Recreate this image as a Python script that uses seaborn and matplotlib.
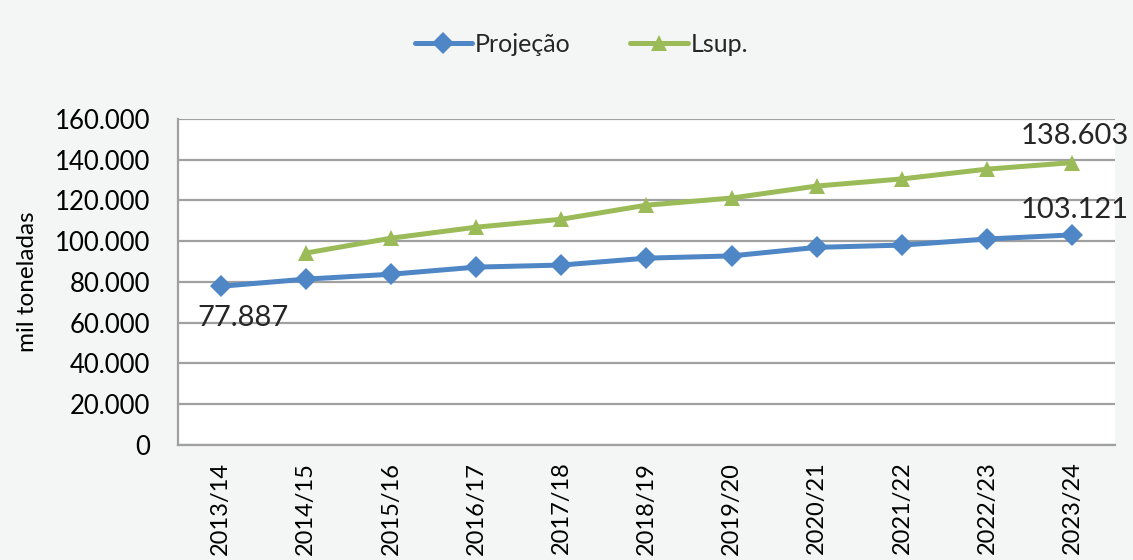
import numpy as np
import pandas as pd
import matplotlib
matplotlib.use("Agg")
import matplotlib.pyplot as plt
import matplotlib.ticker as mticker
from matplotlib.lines import Line2D
import seaborn as sns

# Safras e séries (mil toneladas)
safras = ["2013/14", "2014/15", "2015/16", "2016/17", "2017/18", "2018/19",
          "2019/20", "2020/21", "2021/22", "2022/23", "2023/24"]
projecao = [77887, 81400, 83800, 87300, 88300, 91700, 92800, 97000, 98100, 101100, 103121]
lsup = [np.nan, 94200, 101500, 106900, 110800, 117700, 121200, 127100, 130600, 135400, 138603]
y_ticks = [0, 20000, 40000, 60000, 80000, 100000, 120000, 140000, 160000]

BLUE = "#4F86C6"
GREEN = "#9BBB59"
BG = "#F4F6F6"
GRID = "#A0A0A0"

sns.set_theme(style="white")
plt.rcParams["font.family"] = ["Lato", "DejaVu Sans"]

df = pd.DataFrame({
    "pos": list(range(len(safras))) * 2,
    "valor": projecao + lsup,
    "serie": ["Projeção"] * len(safras) + ["Lsup."] * len(safras),
})

fig = plt.figure(figsize=(11.33, 5.60), dpi=100, facecolor=BG)
ax = fig.add_axes([0.1571, 0.2054, 0.8270, 0.5821])
ax.set_facecolor("white")

sns.lineplot(data=df.dropna(), x="pos", y="valor", hue="serie", style="serie",
             palette={"Projeção": BLUE, "Lsup.": GREEN},
             markers={"Projeção": "D", "Lsup.": "^"},
             dashes=False, linewidth=3.6, markersize=11.5, markeredgewidth=0,
             ax=ax, legend=False)

ax.set_xlim(-0.5, len(safras) - 0.5)
ax.set_ylim(y_ticks[0], y_ticks[-1])
ax.set_yticks(y_ticks)
fmt = lambda v: f"{int(v):,}".replace(",", ".")
ax.yaxis.set_major_formatter(mticker.FuncFormatter(lambda v, p: fmt(v)))
ax.set_xticks(range(len(safras)))
ax.set_xticklabels(safras, rotation=90, fontsize=17, color="black")
ax.set_xticks(np.arange(-0.5, len(safras)), minor=True)
ax.tick_params(axis="x", which="major", length=0, pad=12)
ax.tick_params(axis="x", which="minor", length=7, width=1.5, color=GRID, direction="out")
ax.tick_params(axis="y", length=8, width=1.5, color=GRID, direction="out",
               labelsize=18.5, labelcolor="black", pad=12)

ax.grid(axis="y", color=GRID, linewidth=1.6)
ax.set_axisbelow(True)
for side in ["top", "right"]:
    ax.spines[side].set_visible(False)
for side in ["left", "bottom"]:
    ax.spines[side].set_color(GRID)
    ax.spines[side].set_linewidth(1.6)

ax.set_xlabel("")
ax.set_ylabel("mil toneladas", fontsize=17.5, color="black", labelpad=12)

# Rótulos de valor
ax.annotate(fmt(projecao[0]), (0, projecao[0]), xytext=(16, -23),
            textcoords="offset points", ha="center", va="center", fontsize=21,
            annotation_clip=False)
ax.annotate(fmt(projecao[-1]), (len(safras) - 1, projecao[-1]), xytext=(2, 18),
            textcoords="offset points", ha="center", va="center", fontsize=21,
            annotation_clip=False)
ax.annotate(fmt(lsup[-1]), (len(safras) - 1, lsup[-1]), xytext=(2, 19),
            textcoords="offset points", ha="center", va="center", fontsize=21,
            annotation_clip=False)

# Legenda
handles = [
    Line2D([], [], color=BLUE, lw=3.6, marker="D", markersize=11, markeredgewidth=0),
    Line2D([], [], color=GREEN, lw=3.6, marker="^", markersize=12, markeredgewidth=0),
]
fig.legend(handles, ["Projeção", "Lsup."], loc="center", bbox_to_anchor=(0.513, 0.921),
           ncol=2, frameon=False, fontsize=18, handlelength=2.3,
           handletextpad=0.1, columnspacing=2.4)

fig.savefig("out.png", dpi=100, facecolor=BG)
